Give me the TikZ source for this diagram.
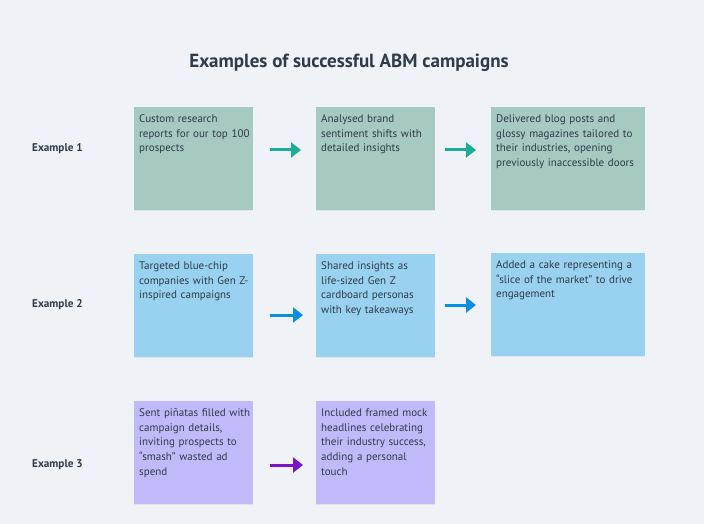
\documentclass[tikz,border=0pt]{standalone}
\usepackage{fontspec}
\setmainfont{PT Sans}
\usetikzlibrary{arrows.meta}
\usetikzlibrary{calc}
\usetikzlibrary{shadows}
\definecolor{bgcol}{HTML}{EFF3F7}
\definecolor{inkcol}{HTML}{2E3B48}
\definecolor{tealbox}{HTML}{A6C9C2}
\definecolor{tealarrow}{HTML}{1AAE9A}
\definecolor{bluebox}{HTML}{99D1F0}
\definecolor{bluearrow}{HTML}{0A8EE0}
\definecolor{purplebox}{HTML}{C0BAFA}
\definecolor{purplearrow}{HTML}{7A12C8}
\tikzset{
    card/.style={draw=none, minimum height=103pt, anchor=north west, inner sep=0pt,
        drop shadow={shadow xshift=0pt, shadow yshift=-1.2pt, opacity=0.12}},
    cardtext/.style={anchor=north west, inner sep=0pt, text width=#1, align=left,
        font=\fontsize{11}{14.7}\selectfont, text=inkcol},
    rowlabel/.style={anchor=west, inner sep=0pt, font=\bfseries\fontsize{11.2}{13}\selectfont, text=inkcol},
    flow/.style={line width=3pt, draw=#1, -{Triangle[length=10pt,width=15pt]}},
}
\newcommand{\drawcard}[5]{
    \node [card, fill=#4, minimum width=#3pt] (#1) at (#2) {};
    \node [cardtext=#3pt] (#1t) at ($(#1.north west)+(5,7.5)$) {#5};
}

\begin{document}
\begin{tikzpicture}[x=1pt, y=-1pt]
    \fill [bgcol] (0,0) rectangle (704,524);
    \node [font=\bfseries\fontsize{19}{22}\selectfont, text=inkcol] (title) at (349,63) {Examples of successful ABM campaigns};
    % row labels
    \node [rowlabel] (e1) at (32,149) {Example 1};
    \node [rowlabel] (e2) at (32,305) {Example 2};
    \node [rowlabel] (e3) at (32,465) {Example 3};
    % cards
    \drawcard{c11}{134,107}{119}{tealbox}{Custom research\\reports for our top 100\\prospects};
    \drawcard{c12}{316,107}{119}{tealbox}{Analysed brand\\sentiment shifts with\\detailed insights};
    \drawcard{c13}{491,107}{154}{tealbox}{Delivered blog posts and\\glossy magazines tailored to\\their industries, opening\\previously inaccessible doors};
    \drawcard{c21}{134,254}{119}{bluebox}{Targeted blue-chip\\companies with Gen Z-\\inspired campaigns};
    \drawcard{c22}{316,254}{119}{bluebox}{Shared insights as\\life-sized Gen Z\\cardboard personas\\with key takeaways};
    \drawcard{c23}{491,253}{154}{bluebox}{Added a cake representing a\\``slice of the market'' to drive\\engagement};
    \drawcard{c31}{134,401}{119}{purplebox}{Sent piñatas filled with\\campaign details,\\inviting prospects to\\``smash'' wasted ad\\spend};
    \drawcard{c32}{316,401}{119}{purplebox}{Included framed mock\\headlines celebrating\\their industry success,\\adding a personal\\touch};
    % arrows
    \draw [flow=tealarrow] ($(c11.east |- e1)+(17,1)$) -- ($(c12.west |- e1)+(-15,1)$);
    \draw [flow=tealarrow] ($(c12.east |- e1)+(10,1)$) -- ($(c13.west |- e1)+(-15,1)$);
    \draw [flow=bluearrow] ($(c21.east |- e2)+(17,10)$) -- ($(c22.west |- e2)+(-13,10)$);
    \draw [flow=bluearrow] ($(c22.east |- e2)+(10,0)$) -- ($(c23.west |- e2)+(-15,0)$);
    \draw [flow=purplearrow] ($(c31.east |- e3)+(17,0)$) -- ($(c32.west |- e3)+(-13,0)$);
\end{tikzpicture}
\end{document}
